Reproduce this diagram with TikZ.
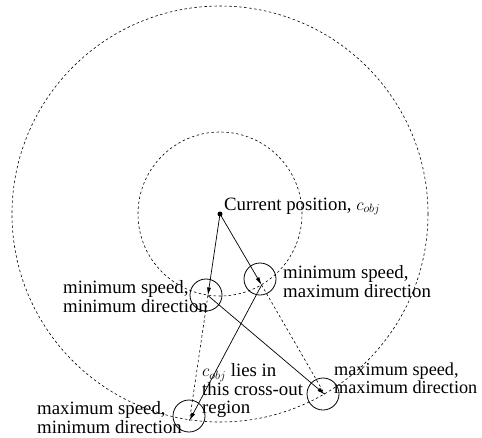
\documentclass[tikz,border=0pt]{standalone}
\usepackage{fontspec}
\setmainfont{Liberation Serif}
\usetikzlibrary{arrows.meta}
\begin{document}
\begin{tikzpicture}[x=1pt,y=-1pt,
  dashedline/.style={line width=0.6pt,dash pattern=on 2.5pt off 2.5pt},
  conn/.style={line width=0.7pt,-{Latex[length=8pt,width=4pt]}},
  smallcirc/.style={circle,draw,line width=0.8pt,minimum size=32pt,inner sep=0pt},
  lbl/.style={font=\fontsize{18.8}{16}\selectfont,align=left,anchor=base west,inner sep=0pt}]
\useasboundingbox (0,0) rectangle (482,437);
% centre and ranges
\coordinate (C) at (220,214);
\draw[dashedline] (C) circle[radius=82pt];
\draw[dashedline] (C) circle[radius=208pt];
\fill (C) circle[radius=2.5pt];
% reachable points
\coordinate (minmin) at (207.9,295.5);
\coordinate (minmax) at (261.6,285);
\coordinate (maxmax) at (324.9,394.5);
\coordinate (maxmin) at (189.5,420.5);
% small circles
\node[smallcirc] (cminmin) at (206,295) {};
\node[smallcirc] (cminmax) at (260,279) {};
\node[smallcirc] (cmaxmax) at (323,394) {};
\node[smallcirc] (cmaxmin) at (189,416) {};
% arrows
\draw[conn] (C) -- (minmin);
\draw[conn] (C) -- (minmax);
\draw[conn] (minmin) -- (maxmax);
\draw[conn] (minmax) -- (maxmin);
% cross-out region borders
\draw[dashedline] (minmin) -- (maxmin);
\draw[dashedline] (minmax) -- (maxmax);
% labels
\node[lbl] (tcur) at (224,210) {Current position, $c_{obj}$};
\node[lbl] (tminmin) at (63,312) {minimum speed,\\minimum direction};
\node[lbl] (tminmax) at (283,297) {minimum speed,\\maximum direction};
\node[lbl,font=\fontsize{18.2}{16}\selectfont] (tmaxmax) at (334,393) {maximum speed,\\maximum direction};
\node[lbl] (tmaxmin) at (37,433) {maximum speed,\\minimum direction};
\node[lbl,font=\fontsize{18.8}{17.5}\selectfont] (tregion) at (202,413) {$c_{obj}$ lies in\\this cross-out\\region};
\end{tikzpicture}
\end{document}
